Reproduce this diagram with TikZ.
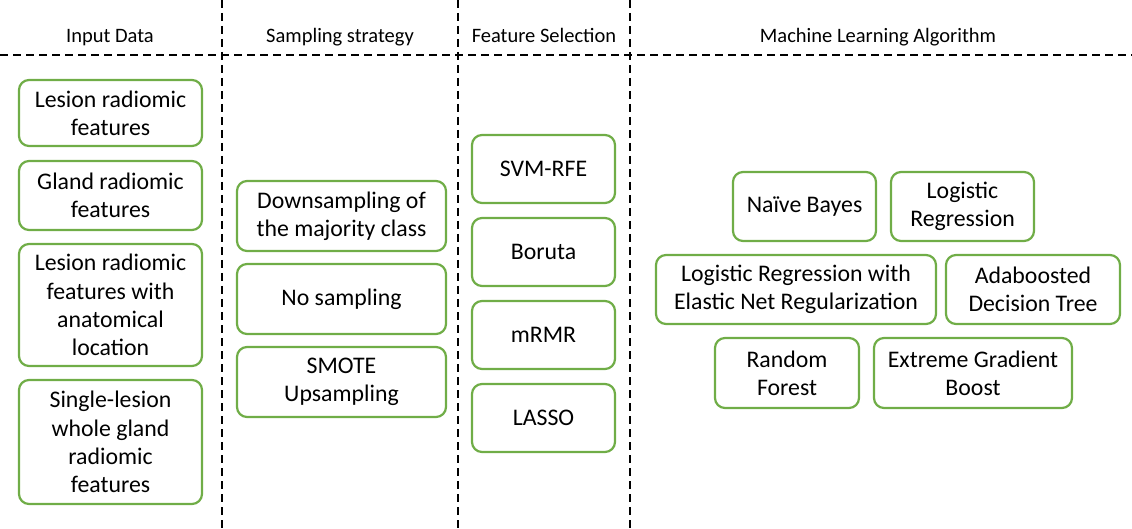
\documentclass[tikz,border=0pt]{standalone}
\usepackage{fontspec}
\setmainfont{Carlito}
\begin{document}
\begin{tikzpicture}[x=1pt,y=-1pt,
  box/.style={draw=boxgreen,line width=2.2pt,rounded corners=10pt,align=center,
    inner sep=0pt,font=\fontsize{23.8}{28.3}\selectfont},
  hdr/.style={font=\fontsize{20.5}{24}\selectfont,inner sep=0pt,anchor=base},
  sep/.style={dashed,line width=1.6pt,dash pattern=on 8pt off 5pt}]
\definecolor{boxgreen}{RGB}{112,173,71}
\useasboundingbox (0,0) rectangle (1132,529);
% separators
\draw[sep] (0,55) -- (1132,55);
\draw[sep] (222,0) -- (222,529);
\draw[sep] (458,0) -- (458,529);
\draw[sep] (630,0) -- (630,529);
% headers
\node[hdr] (h1) at (110,43) {Input Data};
\node[hdr] (h2) at (340,43) {Sampling strategy};
\node[hdr] (h3) at (544,43) {Feature Selection};
\node[hdr] (h4) at (878,43) {Machine Learning Algorithm};
% helper macro for boxes by corners
\newcommand{\bx}[6]{\node[box,minimum width=#4-#2,minimum height=#5-#3] (#1) at ({(#2+#4)/2},{(#3+#5)/2}) {#6};}
% input
\bx{i1}{19}{80}{202}{146}{Lesion radiomic\\features}
\bx{i2}{19}{161}{202}{230}{Gland radiomic\\features}
\bx{i3}{19}{244}{202}{366}{Lesion radiomic\\features with\\anatomical\\location}
\bx{i4}{19}{380}{202}{504}{Single-lesion\\whole gland\\radiomic\\features}
% sampling
\bx{s1}{237}{181}{446}{251}{Downsampling of\\the majority class}
\bx{s2}{237}{264}{446}{334}{No sampling}
\bx{s3}{237}{347}{446}{417}{SMOTE\\Upsampling}
% feature selection
\bx{f1}{472}{135}{615}{203}{SVM-RFE}
\bx{f2}{472}{218}{615}{286}{Boruta}
\bx{f3}{472}{301}{615}{369}{mRMR}
\bx{f4}{472}{384}{615}{452}{LASSO}
% ML
\bx{m1}{733}{172}{876}{241}{Naïve Bayes}
\bx{m2}{891}{172}{1034}{241}{Logistic\\Regression}
\bx{m3}{656}{255}{936}{324}{Logistic Regression with\\Elastic Net Regularization}
\bx{m4}{946}{255}{1120}{324}{Adaboosted\\Decision Tree}
\bx{m5}{715}{338}{859}{408}{Random\\Forest}
\bx{m6}{874}{338}{1072}{408}{Extreme Gradient\\Boost}
\end{tikzpicture}
\end{document}
